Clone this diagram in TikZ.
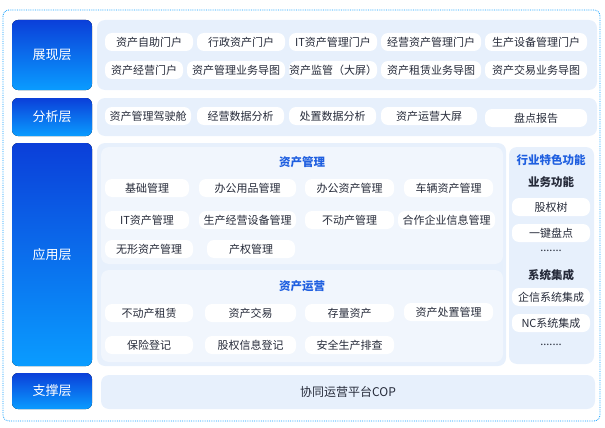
\documentclass[tikz,border=0pt]{standalone}
\usepackage{fontspec}
\setmainfont{Noto Sans CJK SC}
\definecolor{panel}{HTML}{E7F0FC}
\definecolor{dk}{HTML}{0B3FD9}
\definecolor{lt}{HTML}{0A9CFF}
\definecolor{txt}{HTML}{262B3A}
\definecolor{ttl}{HTML}{1F5FE0}
\begin{document}
\begin{tikzpicture}[x=1pt,y=-1pt,
 layer/.style={rounded corners=6pt,top color=dk,bottom color=lt,draw=none},
 pan/.style={rounded corners=8pt,fill=panel,draw=none},
 pill/.style={rounded corners=7pt,fill=white,draw=none},
 lbl/.style={font=\fontsize{13}{13}\selectfont,text=white},
 pt/.style={font=\fontsize{11}{11}\selectfont,text=txt},
 tt/.style={font=\fontsize{11.5}{12}\selectfont\bfseries,text=ttl},
 st/.style={font=\fontsize{11.5}{12}\selectfont\bfseries,text=txt}]
\useasboundingbox (0,0) rectangle (605,428);
\draw[lt,densely dotted,line width=0.8pt,rounded corners=6pt] (3,10) rectangle (600,421);
% layers
\foreach \n/\a/\b/\t in {L1/20/90/展现层,L2/98/136/分析层,L3/143/366/应用层,L4/373/409/支撑层}{
 \fill[layer] (12,\a) rectangle (92,\b);
 \node[lbl] (\n) at (52,{(\a+\b)/2}) {\t};}
\fill[pan] (97,20) rectangle (597,90);
\fill[pan] (97,98) rectangle (597,136);
\fill[pan] (97,143) rectangle (506,366);
\fill[pan] (509,147) rectangle (594,364);
\fill[pan] (101,375) rectangle (595,409);
\fill[pan,fill=panel!60!white] (101,147) rectangle (503,264);
\fill[pan,fill=panel!60!white] (101,270) rectangle (503,362);
\newcommand\pil[5]{\fill[pill] (#1,#3-9) rectangle (#2,#3+9);\node[pt] (#4) at ({(#1+#2)/2},#3) {#5};}
\pil{105}{193}{42}{a1}{资产自助门户}
\pil{197}{285}{42}{a2}{行政资产门户}
\pil{289}{377}{42}{a3}{IT资产管理门户}
\pil{381}{481}{42}{a4}{经营资产管理门户}
\pil{485}{587}{42}{a5}{生产设备管理门户}
\pil{105}{183}{70}{b1}{资产经营门户}
\pil{187}{285}{70}{b2}{资产管理业务导图}
\pil{289}{377}{70}{b3}{资产监管（大屏）}
\pil{381}{481}{70}{b4}{资产租赁业务导图}
\pil{485}{587}{70}{b5}{资产交易业务导图}
\pil{105}{191}{116}{c1}{资产管理驾驶舱}
\pil{197}{284}{116}{c2}{经营数据分析}
\pil{289}{376}{116}{c3}{处置数据分析}
\pil{381}{477}{116}{c4}{资产运营大屏}
\pil{485}{587}{118}{c5}{盘点报告}
\node[tt] (t1) at (302,162) {资产管理};
\pil{105}{189}{188}{d1}{基础管理}
\pil{199}{296}{188}{d2}{办公用品管理}
\pil{305}{394}{188}{d3}{办公资产管理}
\pil{404}{493}{188}{d4}{车辆资产管理}
\pil{105}{189}{220}{e1}{IT资产管理}
\pil{199}{296}{220}{e2}{生产经营设备管理}
\pil{305}{394}{220}{e3}{不动产管理}
\pil{398}{495}{220}{e4}{合作企业信息管理}
\pil{105}{193}{249}{f1}{无形资产管理}
\pil{207}{295}{249}{f2}{产权管理}
\node[tt] (t2) at (302,286) {资产运营};
\pil{105}{193}{313}{g1}{不动产租赁}
\pil{205}{296}{313}{g2}{资产交易}
\pil{305}{394}{313}{g3}{存量资产}
\pil{404}{493}{312}{g4}{资产处置管理}
\pil{105}{193}{345}{h1}{保险登记}
\pil{205}{296}{345}{h2}{股权信息登记}
\pil{305}{394}{345}{h3}{安全生产排查}
\node[tt] (t3) at (551,160) {行业特色功能};
\node[st] (t4) at (551,182) {业务功能};
\pil{512}{590}{207}{r1}{股权树}
\pil{512}{590}{233}{r2}{一键盘点}
\node[pt] (r3) at (551,251) {.......};
\node[st] (t5) at (551,275) {系统集成};
\pil{512}{590}{297}{r4}{企信系统集成}
\pil{512}{590}{323}{r5}{NC系统集成}
\node[pt] (r6) at (551,345) {.......};
\node[pt,font=\fontsize{12}{12}\selectfont] (cop) at (348,392) {协同运营平台COP};
\end{tikzpicture}
\end{document}
